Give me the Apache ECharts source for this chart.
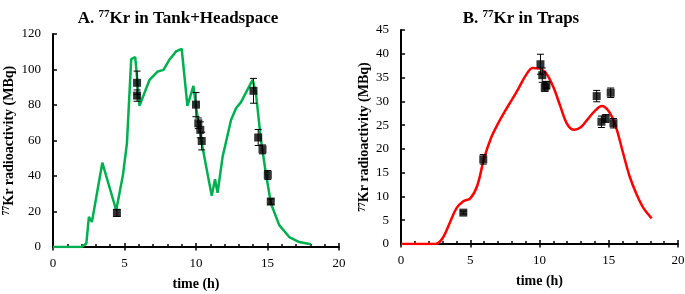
<!DOCTYPE html>
<html><head><meta charset="utf-8">
<script src="https://cdn.jsdelivr.net/npm/echarts@6/dist/echarts.min.js"></script>
<style>html,body{margin:0;padding:0;background:#fff}#c{width:685px;height:294px}</style>
</head><body><div id="c"></div>
<script>
// Panel A: Tank+Headspace
const lineAx = [0,1.98,2.33,2.51,2.72,3.45,4.42,4.89,5.17,5.47,5.75,6.05,6.75,7.33,7.73,8.14,8.61,9.0,9.4,9.82,10.0,10.36,11.1,11.33,11.51,11.86,12.45,12.8,13.15,13.96,14.19,14.54,14.89,15.24,15.82,16.52,17.22,18.03];
const lineAy = [0,0,1.9,17,14.1,47.5,20.7,40.5,58.4,105.9,107,79.5,94.2,98.9,99.8,105.5,110.2,111.6,79.5,90.8,79,60.3,28.8,38.2,30.5,50.8,71.6,78.2,81.6,94.2,86.7,60.3,41.4,24.5,12.3,5.6,2.8,1.5];
const ptsAx = [4.47,5.88,5.88,10.0,10.16,10.3,10.4,14.02,14.35,14.65,15.02,15.23];
const ptsAy = [19.2,92.5,85.3,80.2,69.7,66.0,59.7,88.0,61.7,55.0,40.6,25.6];
const errA  = [2,6.6,3.2,6.8,3,4.5,5,7,4.5,2.5,2.5,1.5];
// Panel B: Traps
const lineBx = [0,2.5,3.0,3.5,4.0,4.5,5.0,5.5,6.0,6.5,7.0,7.5,8.0,8.5,9.0,9.5,10.0,10.5,11.0,11.5,12.0,12.5,13.0,13.5,14.0,14.5,15.0,15.5,16.0,16.5,17.0,17.5,18.1];
const lineBy = [0,0,1.2,4.3,7.5,9.0,9.6,12.2,18.0,22.3,25.3,27.9,30.3,32.8,35.4,37.0,36.9,35.8,33.0,29.0,25.2,24.0,24.6,26.3,28.0,29.0,27.9,24.8,19.5,14.3,10.5,7.6,5.4];
const ptsBx = [4.5,5.94,10.07,10.2,10.38,10.5,14.13,14.47,14.78,15.14,15.34];
const ptsBy = [6.6,17.8,37.8,35.5,32.9,33.4,31.1,25.7,26.4,31.8,25.4];
const errB  = [0.3,1.0,2.1,1.5,0.8,0.8,1.2,1.2,0.8,1.0,1.0];
const xTicks = [0,5,10,15,20];

const serif = 'Liberation Serif';
const zip = (a,b,c) => a.map((v,i)=> c ? [v,b[i],c[i]] : [v,b[i]]);

function errRender(params, api){
  const x = api.value(0), y = api.value(1), e = api.value(2);
  const t = api.coord([x, y+e]), b = api.coord([x, y-e]);
  const cw = 3.5;
  const st = {stroke:'#000', lineWidth:1};
  return {type:'group', children:[
    {type:'line', shape:{x1:t[0],y1:t[1],x2:b[0],y2:b[1]}, style:st},
    {type:'line', shape:{x1:t[0]-cw,y1:t[1],x2:t[0]+cw,y2:t[1]}, style:st},
    {type:'line', shape:{x1:b[0]-cw,y1:b[1],x2:b[0]+cw,y2:b[1]}, style:st}
  ]};
}

const richT = {
  t:{fontFamily:serif,fontWeight:'bold',fontSize:17,color:'#000',lineHeight:20},
  s:{fontFamily:serif,fontWeight:'bold',fontSize:11,color:'#000',lineHeight:20,verticalAlign:'top',padding:[0,0,7,0]}
};
const richY = {
  t:{fontFamily:serif,fontWeight:'bold',fontSize:14,color:'#000',lineHeight:17},
  s:{fontFamily:serif,fontWeight:'bold',fontSize:9.5,color:'#000',lineHeight:17,padding:[0,0,5,0]}
};

function xAx(gi){
  return [{
    gridIndex:gi, type:'value', min:0, max:20, interval:5,
    name:'time (h)', nameLocation:'middle', nameGap:30,
    nameTextStyle:{fontFamily:serif,fontWeight:'bold',fontSize:14,color:'#000'},
    axisLine:{show:true,lineStyle:{color:'#000',width:2}},
    axisTick:{show:true,inside:true,length:4,lineStyle:{color:'#000',width:1.5}},
    minorTick:{show:true,splitNumber:5,length:3,lineStyle:{color:'#000',width:1.5}},
    splitLine:{show:false},
    axisLabel:{fontFamily:serif,fontSize:13,color:'#000',margin:10,
      formatter:v=> xTicks.includes(v)? String(v):''}
  },{
    gridIndex:gi, type:'value', min:0, max:20, interval:5, position:'bottom',
    axisLine:{show:false}, axisTick:{show:true,inside:false,length:3.5,lineStyle:{color:'#000',width:1.5}},
    axisLabel:{show:false}, splitLine:{show:false}
  }];
}
function yAx(gi,max,interval,gap){
  return {
    gridIndex:gi, type:'value', min:0, max:max, interval:interval,
    name:'{s|77}{t|Kr radioactivity (MBq)}', nameLocation:'middle', nameGap:gap, nameRotate:90,
    nameTextStyle:{rich:richY},
    axisLine:{show:true,lineStyle:{color:'#000',width:2}},
    axisTick:{show:true,inside:true,length:4,lineStyle:{color:'#000',width:1.5}},
    splitLine:{show:false},
    axisLabel:{fontFamily:serif,fontSize:13,color:'#000',margin:12}
  };
}

const chart = echarts.init(document.getElementById('c'), null, {renderer:'canvas'});
chart.setOption({
  animation:false,
  backgroundColor:'#fff',
  title:[
    {text:'{t|A. }{s|77}{t|Kr in Tank+Headspace}', left:173, top:4, textAlign:'center', textStyle:{rich:richT}},
    {text:'{t|B. }{s|77}{t|Kr in Traps}', left:516, top:4, textAlign:'center', textStyle:{rich:richT}}
  ],
  grid:[
    {left:53, top:34, width:286, height:213, containLabel:false, outerBoundsMode:'none'},
    {left:401, top:30, width:277, height:214, containLabel:false, outerBoundsMode:'none'}
  ],
  xAxis:[...xAx(0), ...xAx(1)],
  yAxis:[yAx(0,120,20,35), yAx(1,45,5,27)],
  series:[
    {type:'line', xAxisIndex:0, yAxisIndex:0, data:zip(lineAx,lineAy), showSymbol:false,
      lineStyle:{color:'#00B050',width:2.5}, z:2},
    {type:'custom', xAxisIndex:0, yAxisIndex:0, data:zip(ptsAx,ptsAy,errA), renderItem:errRender, z:3},
    {type:'scatter', xAxisIndex:0, yAxisIndex:0, data:zip(ptsAx,ptsAy), symbol:'rect', symbolSize:8,
      itemStyle:{color:'#000'}, z:4},
    {type:'line', xAxisIndex:2, yAxisIndex:1, data:zip(lineBx,lineBy), showSymbol:false, smooth:0.35,
      lineStyle:{color:'#FF0000',width:2.5}, z:2},
    {type:'custom', xAxisIndex:2, yAxisIndex:1, data:zip(ptsBx,ptsBy,errB), renderItem:errRender, z:3},
    {type:'scatter', xAxisIndex:2, yAxisIndex:1, data:zip(ptsBx,ptsBy), symbol:'rect', symbolSize:8,
      itemStyle:{color:'#000'}, z:4}
  ]
});
</script></body></html>
